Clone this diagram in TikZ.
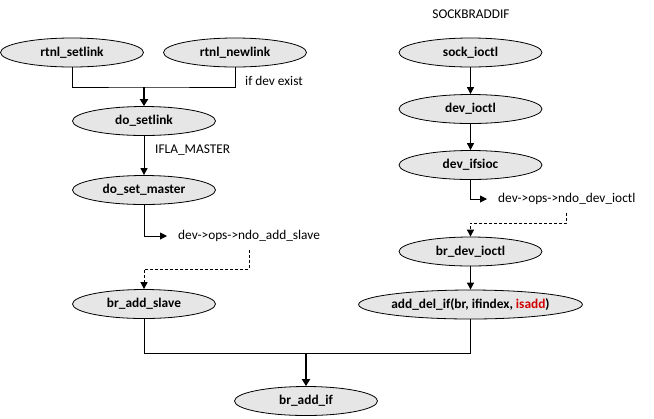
\documentclass[tikz,border=0pt]{standalone}
\usepackage{fontspec}
\setmainfont{Carlito}
\usetikzlibrary{shapes.geometric,arrows.meta}
\definecolor{nodefill}{RGB}{230,230,230}
\definecolor{isred}{RGB}{210,0,0}
\begin{document}
\begin{tikzpicture}[x=1bp,y=-1bp,
  fn/.style={ellipse,draw=black,line width=0.8bp,fill=nodefill,inner sep=0pt,
    minimum width=143bp,minimum height=29bp,font=\fontsize{13.4}{16}\selectfont\bfseries},
  lbl/.style={inner sep=0pt,font=\fontsize{13.4}{16}\selectfont},
  callout/.style={inner xsep=11bp,inner ysep=0pt,minimum height=27bp,font=\fontsize{13.4}{16}\selectfont},
  conn/.style={line width=0.9bp},
  arr/.style={line width=0.9bp,-{Triangle[length=7bp,width=7bp]}},
  thickarr/.style={line width=2.2bp,-{Triangle[length=7bp,width=8bp]}},
  dasharr/.style={line width=0.9bp,dash pattern=on 3bp off 2bp,-{Triangle[length=7bp,width=7bp]}}
]
\useasboundingbox (0,0) rectangle (654,418);
% left column
\node[fn] (rs) at (72,52.5) {rtnl\_setlink};
\node[fn] (rn) at (235,52.5) {rtnl\_newlink};
\node[fn] (ds) at (144,121) {do\_setlink};
\node[fn] (dsm) at (144,190) {do\_set\_master};
\node[fn] (bas) at (144,304) {br\_add\_slave};
\node[fn] (bai) at (306,401) {br\_add\_if};
% right column
\node[fn] (si) at (470.5,52.5) {sock\_ioctl};
\node[fn] (di) at (470.5,109) {dev\_ioctl};
\node[fn] (dif) at (470.5,165) {dev\_ifsioc};
\node[fn] (bdi) at (470.5,251.5) {br\_dev\_ioctl};
\node[fn,minimum width=173bp] (adi) at (470.5,304.5) {add\_del\_if(br, ifindex, \textcolor{isred}{isadd})};
% labels
\node[lbl] (sock) at (471,14) {SOCKBRADDIF};
\node[lbl,anchor=west] (dev) at (245,81) {if dev exist};
\node[lbl,anchor=west] (ifla) at (155,150) {IFLA\_MASTER};
\node[callout,anchor=west] (ndoadd) at (167,236) {dev->ops->ndo\_add\_slave};
\node[callout,anchor=west] (ndodev) at (487,199) {dev->ops->ndo\_dev\_ioctl};
% junction coordinates
\coordinate (j1) at (144,87);
\coordinate (j2) at (306,353);
% top merge
\draw[conn] (rs.south) |- (j1) -| (rn.south);
\draw[thickarr] (j1) -- (ds.north);
\draw[arr] (ds.south) -- (dsm.north);
% left callout
\draw[arr] (dsm.south) |- (ndoadd.west);
\draw[dasharr] (ndoadd.south) |- (144,269) -- (bas.north);
% right chain
\draw[arr] (si.south) -- (di.north);
\draw[arr] (di.south) -- (dif.north);
\draw[arr] (dif.south) |- (ndodev.west);
\draw[dasharr] (ndodev.south) |- (470.5,223) -- (bdi.north);
\draw[arr] (bdi.south) -- (adi.north);
% bottom merge
\draw[conn] (bas.south) |- (j2) -| (adi.south);
\draw[thickarr] (j2) -- (bai.north);
\end{tikzpicture}
\end{document}
